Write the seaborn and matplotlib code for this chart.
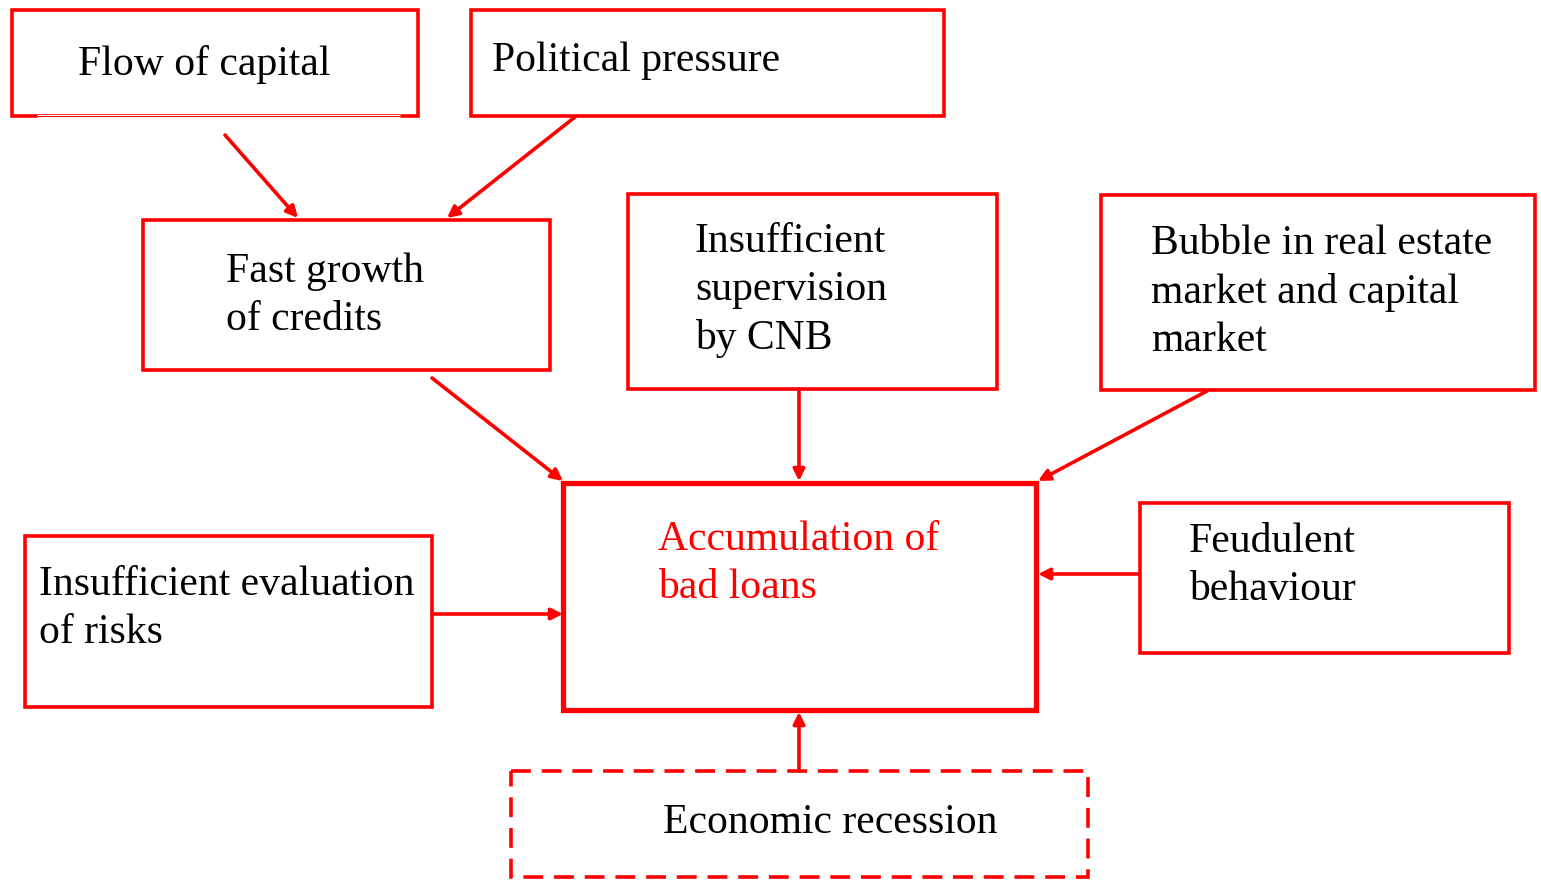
import numpy as np
import pandas as pd
import matplotlib
matplotlib.use("Agg")
import matplotlib.pyplot as plt
import seaborn as sns
from matplotlib.patches import Rectangle

# libellés des boîtes
labels = [
    "Flow of capital",
    "Political pressure",
    "Fast growth\nof credits",
    "Insufficient\nsupervision\nby CNB",
    "Bubble in real estate\nmarket and capital\nmarket",
    "Accumulation of\nbad loans",
    "Insufficient evaluation\nof risks",
    "Feudulent\nbehaviour",
    "Economic recession",
]

# liens (source -> cible)
links = [
    ("Flow of capital", "Fast growth\nof credits"),
    ("Political pressure", "Fast growth\nof credits"),
    ("Fast growth\nof credits", "Accumulation of\nbad loans"),
    ("Insufficient\nsupervision\nby CNB", "Accumulation of\nbad loans"),
    ("Bubble in real estate\nmarket and capital\nmarket", "Accumulation of\nbad loans"),
    ("Insufficient evaluation\nof risks", "Accumulation of\nbad loans"),
    ("Feudulent\nbehaviour", "Accumulation of\nbad loans"),
    ("Economic recession", "Accumulation of\nbad loans"),
]

# %%
sns.set_theme(style="white")
plt.rcParams['font.family'] = ['Liberation Serif', 'DejaVu Serif']

red = '#ff0000'

# mise en page (pixels)
boxes = pd.DataFrame({
    'label': labels,
    'x0': [12, 471, 143, 628, 1101, 563, 25, 1140, 511],
    'y0': [10, 10, 220, 194, 195, 483, 536, 503, 771],
    'x1': [418, 944, 550, 997, 1535, 1036, 432, 1509, 1088],
    'y1': [116, 116, 370, 389, 390, 710, 707, 653, 877],
    'tx': [78, 492, 226, 695, 1151, 658, 39, 1189, 663],
    'ty': [65, 61, 296, 290, 292, 564, 609, 566, 823],
    'lw': [2.6, 2.6, 2.6, 2.6, 2.6, 3.8, 2.6, 2.6, 2.6],
    'ls': ['-'] * 8 + ['--'],
    'tc': ['black'] * 5 + [red] + ['black'] * 3,
})

arrows = [
    ((225, 135), (298, 218)),
    ((575, 117), (447, 218)),
    ((432, 378), (563, 481)),
    ((799, 389), (799, 481)),
    ((1207, 391), (1038, 481)),
    ((432, 614), (563, 614)),
    ((1140, 574), (1038, 574)),
    ((799, 771), (799, 712)),
]

fig = plt.figure(figsize=(15.41, 8.80), dpi=100)
ax = fig.add_axes([0, 0, 1, 1])
ax.set_xlim(0, 1541)
ax.set_ylim(880, 0)
ax.axis('off')

for _, b in boxes.iterrows():
    if b['ls'] == '--':
        ax.add_patch(Rectangle((b.x0, b.y0), b.x1 - b.x0, b.y1 - b.y0, fill=False,
                               edgecolor=red, lw=b.lw, linestyle=(0, (5.5, 3))))
    else:
        ax.add_patch(Rectangle((b.x0, b.y0), b.x1 - b.x0, b.y1 - b.y0, fill=False,
                               edgecolor=red, lw=b.lw, joinstyle='miter'))
    ax.text(b.tx, b.ty, b.label, fontsize=30, color=b.tc, ha='left', va='center',
            ma='left', linespacing=1.33)

# bord inférieur aminci de la première boîte
ax.plot([37, 400], [116, 116], color='white', lw=2.2, solid_capstyle='butt')
ax.plot([37, 400], [116, 116], color=red, lw=0.7)

for (src, dst), (p0, p1) in zip(links, arrows):
    ax.annotate('', xy=p1, xytext=p0,
                arrowprops=dict(arrowstyle='-|>', color=red, lw=2.6,
                                mutation_scale=17, shrinkA=0, shrinkB=0))

fig.savefig('out.png', dpi=100)
